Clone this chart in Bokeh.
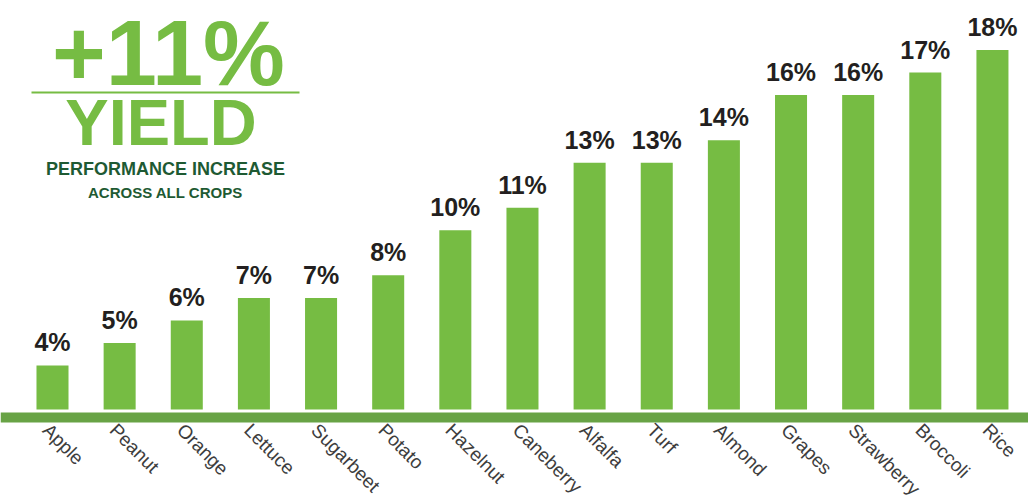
import numpy as np
from bokeh.plotting import figure
from bokeh.models import Range1d, ColumnDataSource, Label, BoxAnnotation
from bokeh.embed import file_html
from bokeh.resources import INLINE
from bokeh.core.properties import value

# ---- data ----
crops = ["Apple", "Peanut", "Orange", "Lettuce", "Sugarbeet", "Potato", "Hazelnut",
         "Caneberry", "Alfalfa", "Turf", "Almond", "Grapes", "Strawberry", "Broccoli", "Rice"]
yield_increase = [4, 5, 6, 7, 7, 8, 10, 11, 13, 13, 14, 16, 16, 17, 18]
value_labels = [f"{v}%" for v in yield_increase]

headline = "+11%"
headline_word = "YIELD"
subtitle_1 = "PERFORMANCE INCREASE"
subtitle_2 = "ACROSS ALL CROPS"

# ---- style ----
GREEN = "#76BC43"
BAND_GREEN = "#68A345"
DARK_GREEN = "#1E5A33"
FONT = "Liberation Sans"

BAR_BASE = 2.05
BAND_BOTTOM, BAND_TOP = 1.47, 1.91
LABEL_Y = 1.60

idx = np.arange(len(crops))
src = ColumnDataSource(dict(x=idx, top=yield_increase, lab=value_labels, crop=crops))

p = figure(width=1028, height=502,
           x_range=Range1d(-0.7745, 14.537), y_range=Range1d(-2.082, 20.20),
           output_backend="svg", toolbar_location=None,
           x_axis_type=None, y_axis_type=None,
           min_border=0, min_border_left=0, min_border_right=0,
           min_border_top=0, min_border_bottom=0)
p.outline_line_color = None
p.background_fill_color = "white"
p.border_fill_color = "white"

# bars
p.vbar(x="x", top="top", bottom=BAR_BASE, width=0.477, source=src,
       fill_color=GREEN, line_color=None)

# baseline band
p.add_layout(BoxAnnotation(bottom=BAND_BOTTOM, top=BAND_TOP, fill_color=BAND_GREEN,
                           fill_alpha=1.0, line_alpha=0, level="overlay"))

# value labels
p.text(x="x", y="top", text="lab", source=src, text_align="center",
       text_baseline="alphabetic", y_offset=-23,
       text_font=value(FONT), text_font_style="bold", text_font_size="25px",
       text_color="#231F20")

# category labels
p.text(x="x", y=LABEL_Y, text="crop", source=src, angle=-np.pi / 4,
       text_align="left", text_baseline="top", x_offset=1,
       text_font=value(FONT), text_font_size="19px", text_color="#3d3d3d")

# headline block
p.add_layout(Label(x=168, y=450, x_units="screen", y_units="screen", text=headline,
                   text_align="center", text_baseline="alphabetic",
                   text_font=FONT, text_font_style="bold", text_font_size="92px",
                   text_color=GREEN))
p.add_layout(BoxAnnotation(left=31, right=299, bottom=409, top=411,
                           left_units="screen", right_units="screen",
                           bottom_units="screen", top_units="screen",
                           fill_color=GREEN, fill_alpha=1.0, line_alpha=0))
p.add_layout(Label(x=160.5, y=380, x_units="screen", y_units="screen", text=headline_word,
                   text_align="center", text_baseline="alphabetic",
                   text_font=FONT, text_font_style="bold", text_font_size="65px",
                   text_color=GREEN))
p.add_layout(Label(x=165, y=334, x_units="screen", y_units="screen", text=subtitle_1,
                   text_align="center", text_baseline="alphabetic",
                   text_font=FONT, text_font_style="bold", text_font_size="18px",
                   text_color=DARK_GREEN))
p.add_layout(Label(x=165, y=310, x_units="screen", y_units="screen", text=subtitle_2,
                   text_align="center", text_baseline="alphabetic",
                   text_font=FONT, text_font_style="bold", text_font_size="15px",
                   text_color=DARK_GREEN))

open("out.html", "w").write(file_html(p, INLINE))
